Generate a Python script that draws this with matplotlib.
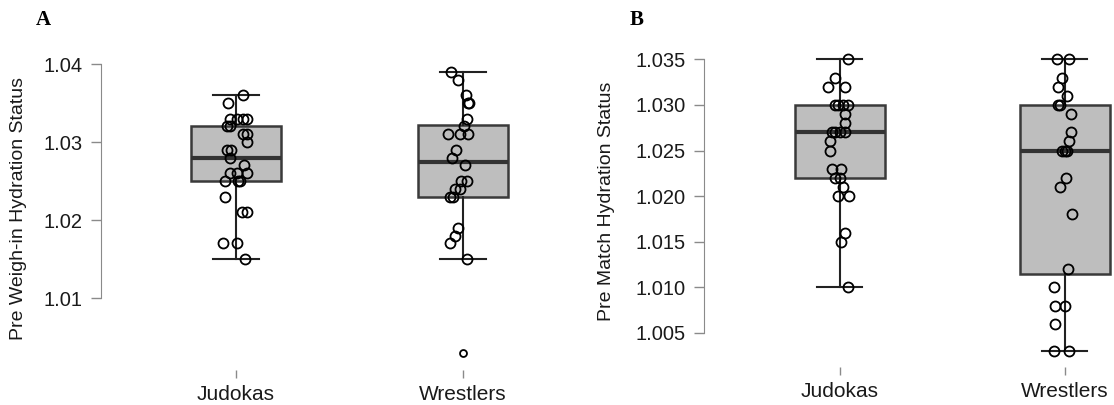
import numpy as np
import matplotlib
matplotlib.use("Agg")
import matplotlib.pyplot as plt

plt.rcParams['font.family'] = ['Liberation Sans', 'DejaVu Sans']

groups = ["Judokas", "Wrestlers"]

# panel A: pre weigh-in (with the jitter seen)
a_judo = [1.036, 1.035, 1.033, 1.033, 1.033, 1.033, 1.032, 1.032, 1.031, 1.031,
          1.030, 1.029, 1.029, 1.028, 1.027, 1.026, 1.026, 1.026, 1.025, 1.025,
          1.025, 1.023, 1.021, 1.021, 1.017, 1.017, 1.015]
a_judo_jit = [0.032, -0.034, -0.026, 0.003, 0.032, 0.047, -0.041, -0.026, 0.032, 0.048,
              0.047, -0.041, -0.023, -0.026, 0.035, -0.026, 0.003, 0.047, -0.048, 0.010,
              0.018, -0.048, 0.025, 0.047, -0.056, 0.006, 0.040]
a_wres = [1.039, 1.038, 1.036, 1.035, 1.035, 1.033, 1.032, 1.031, 1.031, 1.031,
          1.029, 1.028, 1.027, 1.025, 1.025, 1.024, 1.024, 1.023, 1.023, 1.019,
          1.018, 1.017, 1.015]
a_wres_jit = [-0.053, -0.023, 0.013, 0.021, 0.028, 0.016, 0.004, -0.065, -0.013, 0.023,
              -0.031, -0.050, 0.009, -0.010, 0.016, -0.035, -0.013, -0.057, -0.045, -0.021,
              -0.035, -0.057, 0.016]
a_q1 = [1.025, 1.023]
a_med = [1.028, 1.0275]
a_q3 = [1.032, 1.0322]
a_lo = [1.015, 1.015]
a_hi = [1.036, 1.039]
a_out = [[], [1.003]]

# panel B: pre match
b_judo = [1.035, 1.033, 1.032, 1.032, 1.030, 1.030, 1.030, 1.030, 1.029, 1.028,
          1.027, 1.027, 1.027, 1.027, 1.026, 1.025, 1.023, 1.023, 1.022, 1.022,
          1.021, 1.020, 1.020, 1.016, 1.015, 1.010]
b_judo_jit = [0.037, -0.022, -0.052, 0.022, -0.022, -0.007, 0.015, 0.037, 0.022, 0.022,
              -0.037, -0.022, 0.0, 0.022, -0.044, -0.044, -0.037, 0.007, -0.022, 0.0,
              0.015, -0.007, 0.041, 0.022, 0.007, 0.037]
b_wres = [1.035, 1.035, 1.033, 1.032, 1.031, 1.030, 1.030, 1.029, 1.027, 1.026,
          1.025, 1.025, 1.025, 1.022, 1.021, 1.018, 1.012, 1.010, 1.008, 1.008,
          1.006, 1.003, 1.003]
b_wres_jit = [-0.034, 0.019, -0.015, -0.030, 0.007, -0.030, -0.022, 0.025, 0.027, 0.018,
              -0.012, 0.0, 0.007, 0.003, -0.022, 0.030, 0.015, -0.048, -0.044, 0.0,
              -0.044, -0.048, 0.019]
b_q1 = [1.022, 1.0115]
b_med = [1.027, 1.025]
b_q3 = [1.030, 1.030]
b_lo = [1.010, 1.003]
b_hi = [1.035, 1.035]
b_out = [[], []]

a_ticks = [1.01, 1.02, 1.03, 1.04]
b_ticks = [1.005, 1.010, 1.015, 1.020, 1.025, 1.030, 1.035]

W, H = 1114, 405
fig = plt.figure(figsize=(W / 100, H / 100), dpi=100)


def px_axes(left, right, top, bottom):
    return fig.add_axes([left / W, (H - bottom) / H, (right - left) / W, (bottom - top) / H])


def draw_panel(ax, q1, med, q3, lo, hi, out, pts, jit, ticks, fmt, ylabel, xlim, ylim, lab_xy):
    stats = []
    for i in range(2):
        stats.append(dict(med=med[i], q1=q1[i], q3=q3[i], whislo=lo[i], whishi=hi[i], fliers=out[i]))
    ax.bxp(stats, positions=[1, 2], widths=0.4, capwidths=0.2, patch_artist=True,
           boxprops=dict(facecolor='#bebebe', edgecolor='#3a3a3a', linewidth=1.8),
           medianprops=dict(color='#333333', linewidth=3),
           whiskerprops=dict(color='#222222', linewidth=1.5),
           capprops=dict(color='#222222', linewidth=1.5),
           flierprops=dict(marker='o', markersize=5, markerfacecolor='none',
                           markeredgecolor='black', markeredgewidth=1.3))
    for i in range(2):
        x = (i + 1) + np.array(jit[i])
        ax.plot(x, pts[i], 'o', ms=7.2, mfc='none', mec='black', mew=1.3, zorder=5)
    ax.set_xlim(*xlim)
    ax.set_ylim(*ylim)
    for s in ['top', 'right', 'bottom']:
        ax.spines[s].set_visible(False)
    ax.spines['left'].set_color('#8a8a8a')
    ax.spines['left'].set_bounds(ticks[0], ticks[-1])
    ax.set_yticks(ticks)
    ax.set_yticklabels([fmt.format(t) for t in ticks], fontsize=14.5, color='#1a1a1a')
    ax.set_xticks([1, 2])
    ax.set_xticklabels(groups, fontsize=15, color='#1a1a1a')
    ax.tick_params(axis='y', length=7.5, width=1, color='#8a8a8a', pad=5.5)
    ax.tick_params(axis='x', length=5.8, width=1, color='#8a8a8a', pad=5)
    ax.set_ylabel(ylabel, fontsize=14, color='#1a1a1a')
    ax.yaxis.set_label_coords(*lab_xy)
    ax.patch.set_visible(False)


axA = px_axes(101, 570, 40, 370)
draw_panel(axA, a_q1, a_med, a_q3, a_lo, a_hi, a_out,
           [a_judo, a_wres], [a_judo_jit, a_wres_jit], a_ticks, "{:.2f}",
           "Pre Weigh-in Hydration Status", (0.405, 2.471), (1.00077, 1.04308), (-0.158, 0.488))

axB = px_axes(704, 1114, 40, 367)
draw_panel(axB, b_q1, b_med, b_q3, b_lo, b_hi, b_out,
           [b_judo, b_wres], [b_judo_jit, b_wres_jit], b_ticks, "{:.3f}",
           "Pre Match Hydration Status", (0.396, 2.218), (1.00126, 1.03712), (-0.217, 0.506))

fig.text(36 / W, (H - 25) / H, "A", fontsize=15, fontweight='bold',
         family=['Liberation Serif', 'DejaVu Serif'])
fig.text(630 / W, (H - 25) / H, "B", fontsize=15, fontweight='bold',
         family=['Liberation Serif', 'DejaVu Serif'])

fig.savefig("out.png", dpi=100)
